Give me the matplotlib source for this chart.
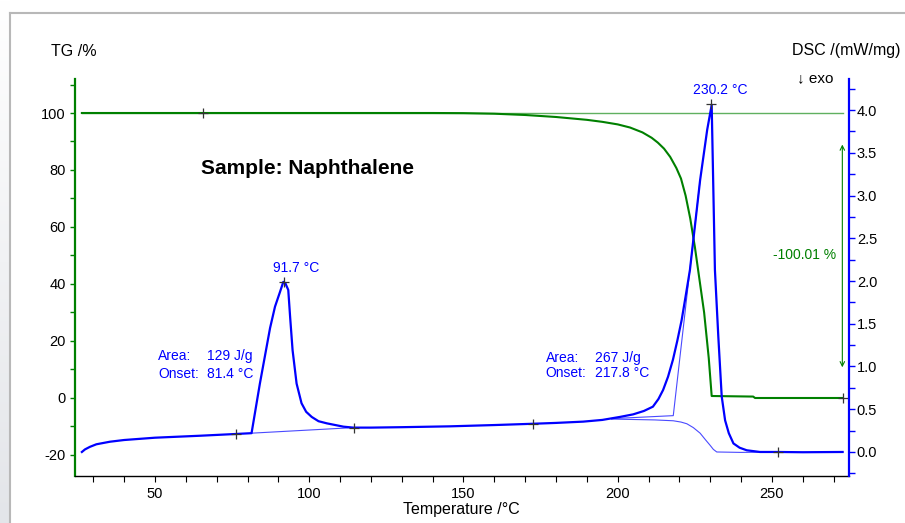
import numpy as np
import matplotlib

matplotlib.use("Agg")
import matplotlib.pyplot as plt
from matplotlib.lines import Line2D
from matplotlib.ticker import MultipleLocator, FormatStrFormatter

# --- data -------------------------------------------------------------------
# DSC signal (mW/mg) vs temperature (°C)
dsc_t = [26.3, 27.3, 28.9, 31.0, 35.4, 40.0, 50.0, 64.6, 75.9, 81.3,
         84.0, 87.3, 88.9, 90.5, 91.6, 92.3, 93.2, 93.8, 94.6, 95.9, 97.5,
         99.0, 100.8, 103.0, 105.7, 111.1, 114.3,
         120.0, 130.0, 145.6, 160.0, 172.5, 180.0, 188.8, 195.0, 200.7,
         205.0, 208.5, 211.4, 213.2, 214.7, 216.3, 217.9, 219.3, 220.7,
         222.0, 223.4, 226.7, 229.0, 230.45, 231.5, 232.6, 233.7,
         234.8, 236.0, 237.5, 239.5, 241.8, 246.1, 252.0, 260.0, 272.9]
dsc_v = [0.0, 0.03, 0.06, 0.09, 0.12, 0.14, 0.167, 0.19, 0.21, 0.22,
         0.80, 1.45, 1.70, 1.87, 1.99, 1.97, 1.895, 1.58, 1.19, 0.80, 0.57,
         0.47, 0.41, 0.36, 0.335, 0.296, 0.285,
         0.285, 0.29, 0.30, 0.315, 0.33, 0.34, 0.355, 0.375, 0.41,
         0.44, 0.48, 0.53, 0.62, 0.725, 0.88, 1.08, 1.30, 1.54,
         1.82, 2.13, 3.18, 3.77, 4.06, 2.13, 1.35, 0.65,
         0.37, 0.22, 0.10, 0.05, 0.02, 0.0, 0.0, -0.003, 0.0]

# thin construction lines (DSC)
base1_t = [81.3, 114.3]
base1_v = [0.22, 0.285]
tang_t = [198.0, 218.0, 226.7]
tang_v = [0.39, 0.425, 3.18]
sig_t = [198.0, 205.0, 212.0, 218.0, 220.5, 222.4, 224.5, 226.7, 228.5,
         229.9, 231.0, 232.1, 240.0, 252.0]
sig_v = [0.385, 0.38, 0.375, 0.365, 0.35, 0.33, 0.285, 0.22, 0.14,
         0.08, 0.03, 0.0, -0.005, 0.0]

# TG mass (%) vs temperature (°C)
tg_t = [26.3, 140.0, 150.0, 160.0, 170.0, 180.0, 190.0, 195.0, 200.0,
        204.0, 208.0, 211.0, 213.0, 215.0, 217.0, 219.0, 220.5, 222.0,
        223.5, 225.0, 226.5, 228.0, 229.5, 230.45, 243.9, 244.5, 272.9]
tg_v = [100.0, 100.0, 99.95, 99.75, 99.3, 98.6, 97.6, 96.9, 96.0,
        94.9, 93.2, 91.3, 89.6, 87.5, 84.6, 80.7, 77.0, 71.0,
        63.0, 53.0, 41.5, 30.0, 14.0, 0.7, 0.5, 0.0, 0.0]

dsc_marks_t = [76.2, 91.7, 114.5, 172.5, 230.2, 252.0]
dsc_marks_v = [0.21, 1.99, 0.285, 0.33, 4.07, 0.0]
tg_marks_t = [65.5, 272.9]
tg_marks_v = [100.0, 0.0]

GREEN = "#008000"
BLUE = "#0000ff"

plt.rcParams["font.family"] = ["Liberation Sans", "DejaVu Sans"]
plt.rcParams["axes.unicode_minus"] = False

W, H = 905, 523
fig = plt.figure(figsize=(W / 100, H / 100), dpi=100, facecolor="white")

# window frame / left gradient strip
strip = fig.add_axes([0, 0, 9.5 / W, 1])
grad = np.linspace(0.0, 1.0, 256).reshape(-1, 1)
strip.imshow(grad, aspect="auto", cmap=matplotlib.colors.LinearSegmentedColormap.from_list(
    "g", ["#e3e5e9", "#ffffff"]), extent=[0, 1, 0, 1], origin="lower")
strip.axis("off")
fig.add_artist(Line2D([10 / W, 10 / W], [0, 1 - 13 / H], transform=fig.transFigure, color="#b8b8b8", lw=1.5))
fig.add_artist(Line2D([10 / W, 1], [1 - 13 / H, 1 - 13 / H], transform=fig.transFigure, color="#b8b8b8", lw=1.5))

ax = fig.add_axes([75 / W, 1 - 476 / H, (848.5 - 75) / W, (476 - 79) / H])
ax.set_facecolor("none")
ax.set_xlim(24.07, 274.8)
ax.set_ylim(-27.37, 111.93)
ax2 = ax.twinx()
ax2.set_ylim(-0.281, 4.363)

for a in (ax, ax2):
    a.spines["top"].set_visible(False)
ax.spines["right"].set_visible(False)
ax2.spines["left"].set_visible(False)
ax2.spines["bottom"].set_visible(False)
ax.spines["left"].set_color(GREEN)
ax.spines["left"].set_linewidth(1.6)
ax2.spines["right"].set_color(BLUE)
ax2.spines["right"].set_linewidth(1.6)
ax.spines["bottom"].set_linewidth(1.0)

ax.xaxis.set_major_locator(MultipleLocator(50))
ax.xaxis.set_minor_locator(MultipleLocator(10))
ax.yaxis.set_major_locator(MultipleLocator(20))
ax.yaxis.set_minor_locator(MultipleLocator(10))
ax2.yaxis.set_major_locator(MultipleLocator(0.5))
ax2.yaxis.set_minor_locator(MultipleLocator(0.25))
ax2.yaxis.set_major_formatter(FormatStrFormatter("%.1f"))

ax.tick_params(axis="x", which="both", direction="out", length=4, width=0.8, pad=4, labelsize=10.5)
ax.tick_params(axis="y", which="both", direction="out", length=3.5, width=1.0, color=GREEN, pad=3, labelsize=10.5)
ax2.tick_params(axis="y", which="both", direction="out", length=4, width=1.0, color=BLUE, pad=2, labelsize=10.5)

# TG
ax.plot([tg_t[0], tg_t[-1]], [100, 100], color="#60b060", lw=1.0, zorder=1)
ax.plot(tg_t, tg_v, color=GREEN, lw=1.5, zorder=2)
ax.plot(tg_marks_t, tg_marks_v, "+", color="#333333", ms=7, mew=0.9, zorder=3)
ax.annotate("", xy=(272.8, 89.9), xytext=(272.8, 9.8),
            arrowprops=dict(arrowstyle="<->", color=GREEN, lw=0.8, mutation_scale=8))
ax.text(270.9, 50.2, "-100.01 %", color=GREEN, ha="right", va="center", fontsize=10)
ax.text(64.8, 80.6, "Sample: Naphthalene", ha="left", va="center", fontsize=15, fontweight="bold")

# DSC
ax2.plot(base1_t, base1_v, color="#4a4aff", lw=0.8, zorder=2)
ax2.plot(sig_t, sig_v, color="#4a4aff", lw=0.8, zorder=2)
ax2.plot(tang_t, tang_v, color="#4a4aff", lw=0.8, zorder=2)
ax2.plot(dsc_t, dsc_v, color=BLUE, lw=1.6, zorder=3)
ax2.plot(dsc_marks_t, dsc_marks_v, "+", color="#333333", ms=7, mew=0.9, zorder=4)

ax2.text(95.8, 2.15, "91.7 °C", color=BLUE, ha="center", va="center", fontsize=10)
ax2.text(233.2, 4.23, "230.2 °C", color=BLUE, ha="center", va="center", fontsize=10)
for x_lab, x_val, y1, y2, area, onset in [(51.0, 67.0, 1.12, 0.91, "129 J/g", "81.4 °C"),
                                          (176.7, 192.6, 1.10, 0.92, "267 J/g", "217.8 °C")]:
    ax2.text(x_lab, y1, "Area:", color=BLUE, ha="left", va="center", fontsize=10)
    ax2.text(x_val, y1, area, color=BLUE, ha="left", va="center", fontsize=10)
    ax2.text(x_lab, y2, "Onset:", color=BLUE, ha="left", va="center", fontsize=10)
    ax2.text(x_val, y2, onset, color=BLUE, ha="left", va="center", fontsize=10)

# axis titles
fig.text(50.7 / W, 1 - 51.7 / H, "TG /%", ha="left", va="center", fontsize=11.5)
fig.text(791.7 / W, 1 - 50 / H, "DSC /(mW/mg)", ha="left", va="center", fontsize=11.5)
fig.text(796.5 / W, 1 - 77.7 / H, "↓ exo", ha="left", va="center", fontsize=11)
fig.text(461.7 / W, 1 - 509.5 / H, "Temperature /°C", ha="center", va="center", fontsize=11.5)

fig.savefig("out.png", dpi=100)
